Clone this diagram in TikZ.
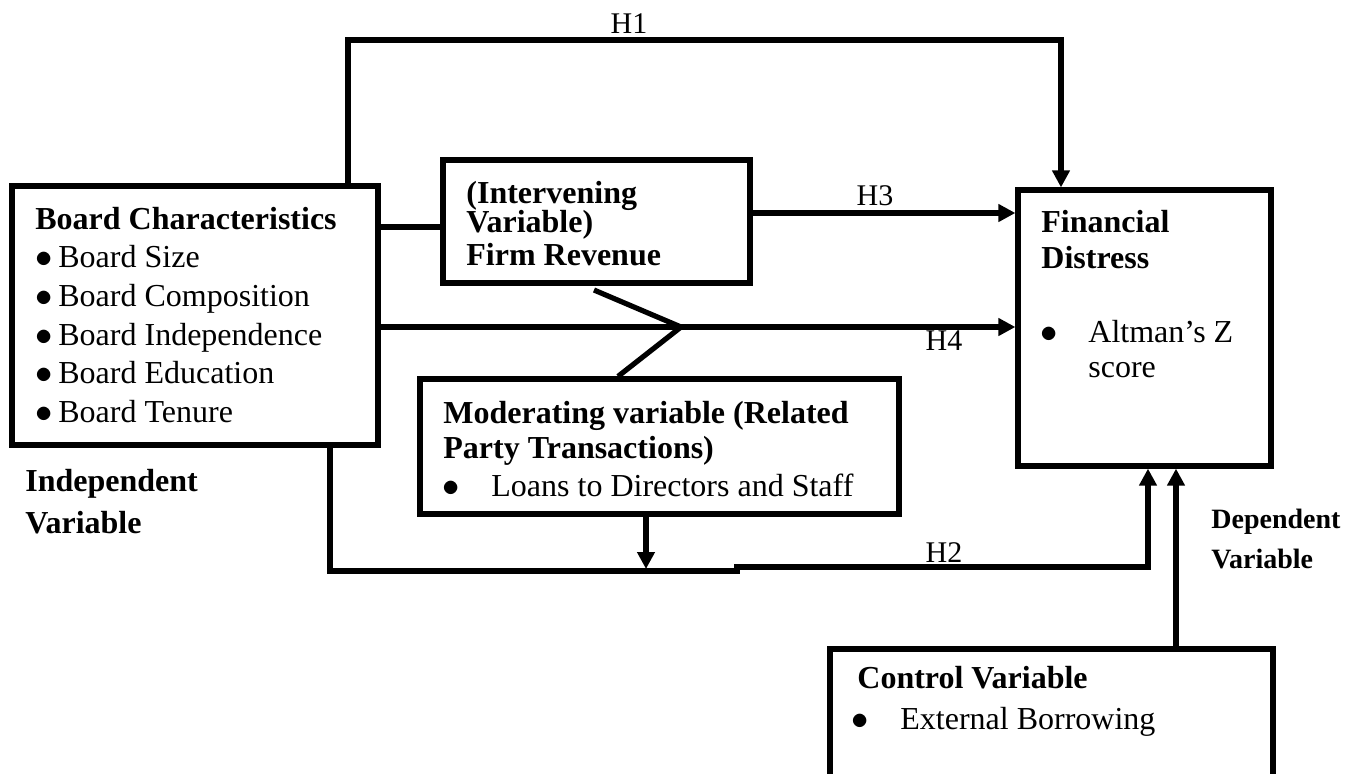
\documentclass[tikz,border=0pt]{standalone}
\usepackage{fontspec}
\setmainfont{Liberation Serif}
\usetikzlibrary{arrows.meta,fit}
\newcommand{\bulletmark}{$\bullet$}
\begin{document}
\begin{tikzpicture}[x=0.5pt,y=-0.5pt,
  box/.style={draw,line width=2.6pt,inner sep=0pt,rectangle},
  conn/.style={line width=2.6pt},
  arr/.style={conn,-{Triangle[length=8.5pt,width=8.5pt]}},
  txt/.style={anchor=base west,inner sep=0pt,font=\fontsize{16}{19}\selectfont},
  btxt/.style={anchor=base west,inner sep=0pt,font=\fontsize{16}{19}\selectfont\bfseries},
  dtxt/.style={anchor=base west,inner sep=0pt,font=\fontsize{14}{17}\selectfont\bfseries},
  hl/.style={anchor=base,inner sep=0pt,font=\fontsize{15}{18}\selectfont}]
\useasboundingbox (0,0) rectangle (1362,773);
\clip (0,0) rectangle (1362,773);
\fill[white] (0,0) rectangle (1362,773);

% boxes
\node[box,fit={(12,186)(378,445)}] (bc) {};
\node[box,fit={(443,160)(750,283)}] (iv) {};
\node[box,fit={(1018,190)(1271,466)}] (fd) {};
\node[box,fit={(420,379)(899,514)}] (mv) {};
\node[box,fit={(830,649)(1273,830)}] (cv) {};

% board characteristics text
\node[btxt] (bct) at (35,229) {Board Characteristics};
\node[txt] (b1d) at (35,267) {\bulletmark};
\node[txt] (b1) at (58,267) {Board Size};
\node[txt] (b2d) at (35,306) {\bulletmark};
\node[txt] (b2) at (58,306) {Board Composition};
\node[txt] (b3d) at (35,345) {\bulletmark};
\node[txt] (b3) at (58,345) {Board Independence};
\node[txt] (b4d) at (35,383) {\bulletmark};
\node[txt] (b4) at (58,383) {Board Education};
\node[txt] (b5d) at (35,422) {\bulletmark};
\node[txt] (b5) at (58,422) {Board Tenure};
\node[btxt] (ind1) at (25,491) {Independent};
\node[btxt] (ind2) at (25,533) {Variable};

% intervening
\node[btxt] (iv1) at (466,203) {(Intervening};
\node[btxt] (iv2) at (466,232) {Variable)};
\node[btxt] (iv3) at (466,265) {Firm Revenue};

% financial distress
\node[btxt] (fd1) at (1041,232) {Financial};
\node[btxt] (fd2) at (1041,268) {Distress};
\node[txt] (fdb) at (1040,342) {\bulletmark};
\node[txt] (fd3) at (1088,342) {Altman’s Z};
\node[txt] (fd4) at (1088,377) {score};

% moderating
\node[btxt] (mv1) at (443,423) {Moderating variable (Related};
\node[btxt] (mv2) at (443,458) {Party Transactions)};
\node[txt] (mvb) at (442,496) {\bulletmark};
\node[txt] (mv3) at (491,496) {Loans to Directors and Staff};

% control
\node[btxt] (cv1) at (857,688) {Control Variable};
\node[txt] (cvb) at (851,729) {\bulletmark};
\node[txt] (cv2) at (900,729) {External Borrowing};

% dependent
\node[dtxt] (dep1) at (1211,528) {Dependent};
\node[dtxt] (dep2) at (1211,568) {Variable};

% hypothesis labels
\node[hl] (lh1) at (629,33) {H1};
\node[hl] (lh3) at (875,205) {H3};
\node[hl] (lh4) at (944,350) {H4};
\node[hl] (lh2) at (944,562) {H2};

% connectors
\coordinate (h1a) at (348,40);
\coordinate (h1b) at (1061,40);
\draw[arr] (bc.north -| h1a) -- (h1a) -- (h1b) -- (h1b |- fd.north);

\coordinate (ivl) at (0,227);
\draw[conn] (bc.east |- ivl) -- (iv.west |- ivl);

\coordinate (h3) at (0,213);
\draw[arr] (iv.east |- h3) -- (fd.west |- h3);

\coordinate (h4) at (0,327);
\draw[arr] (bc.east |- h4) -- (fd.west |- h4);

\coordinate (z1) at (594,290);
\coordinate (z2) at (681,327);
\coordinate (z3) at (618,0);
\draw[conn] (z1) -- (z2) -- (z3 |- mv.north);

\coordinate (mj) at (646,569);
\draw[arr] (mv.south -| mj) -- (mj);

\coordinate (h2a) at (330,571);
\coordinate (h2b) at (737,571);
\coordinate (h2c) at (737,567);
\coordinate (h2d) at (1148,567);
\draw[arr] (bc.south -| h2a) -- (h2a) -- (h2b) -- (h2c) -- (h2d) -- (h2d |- fd.south);

\coordinate (cva) at (1176,0);
\draw[arr] (cv.north -| cva) -- (cva |- fd.south);
\end{tikzpicture}
\end{document}
